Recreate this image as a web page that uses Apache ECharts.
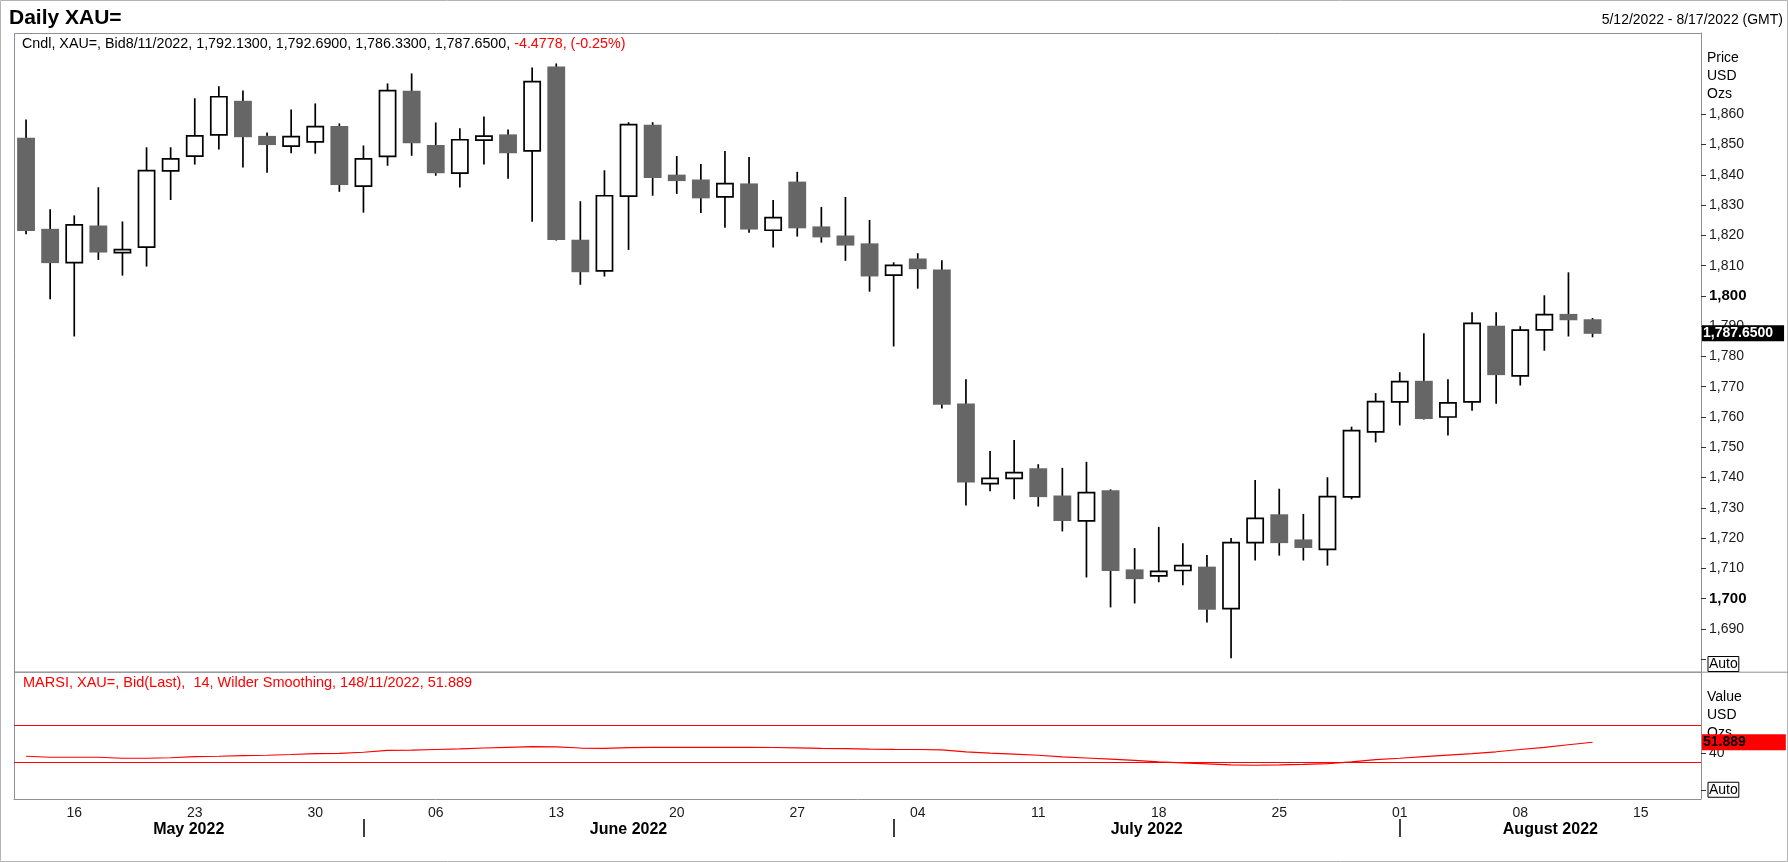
<!DOCTYPE html>
<html>
<head>
<meta charset="utf-8">
<title>Daily XAU=</title>
<script src="https://cdn.jsdelivr.net/npm/echarts@6/dist/echarts.min.js"></script>
<style>
    html, body { margin: 0; padding: 0; background: #fff; }
    #chart { width: 1788px; height: 862px; }
</style>
</head>
<body>
<div id="chart"></div>
<script>
// trading days shown on the time axis (5/12/2022 - 8/17/2022)
const dates = [
    '2022-05-12', '2022-05-13', '2022-05-16', '2022-05-17', '2022-05-18', '2022-05-19', '2022-05-20',
    '2022-05-23', '2022-05-24', '2022-05-25', '2022-05-26', '2022-05-27', '2022-05-30', '2022-05-31',
    '2022-06-01', '2022-06-02', '2022-06-03', '2022-06-06', '2022-06-07', '2022-06-08', '2022-06-09',
    '2022-06-10', '2022-06-13', '2022-06-14', '2022-06-15', '2022-06-16', '2022-06-17', '2022-06-20',
    '2022-06-21', '2022-06-22', '2022-06-23', '2022-06-24', '2022-06-27', '2022-06-28', '2022-06-29',
    '2022-06-30', '2022-07-01', '2022-07-04', '2022-07-05', '2022-07-06', '2022-07-07', '2022-07-08',
    '2022-07-11', '2022-07-12', '2022-07-13', '2022-07-14', '2022-07-15', '2022-07-18', '2022-07-19',
    '2022-07-20', '2022-07-21', '2022-07-22', '2022-07-25', '2022-07-26', '2022-07-27', '2022-07-28',
    '2022-07-29', '2022-08-01', '2022-08-02', '2022-08-03', '2022-08-04', '2022-08-05', '2022-08-08',
    '2022-08-09', '2022-08-10', '2022-08-11', '2022-08-12', '2022-08-15', '2022-08-16', '2022-08-17'
]

// daily bid candles
const openPrices = [
    1852.1, 1822.0, 1811.0, 1823.1, 1814.3, 1816.1, 1841.3, 1846.2, 1853.2, 1864.3, 1852.7, 1849.5, 1850.9, 1856.0,
    1836.3, 1846.1, 1867.6, 1849.7, 1840.6, 1851.5, 1853.2, 1847.9, 1875.6, 1818.4, 1808.3, 1833.0, 1856.4, 1839.9,
    1838.3, 1832.7, 1837.0, 1821.7, 1837.6, 1822.8, 1819.8, 1817.2, 1806.9, 1812.2, 1808.6, 1764.3, 1738.0, 1739.7,
    1742.9, 1733.9, 1725.7, 1735.6, 1709.5, 1707.5, 1709.3, 1710.4, 1696.7, 1718.5, 1727.7, 1719.4, 1716.3, 1733.6,
    1755.1, 1765.0, 1771.8, 1760.0, 1765.0, 1790.0, 1773.6, 1788.8, 1793.9, 1792.13
]
const highPrices = [
    1858.3, 1828.6, 1826.6, 1835.9, 1824.6, 1849.1, 1849.1, 1865.3, 1869.3, 1867.9, 1854.0, 1861.6, 1863.6, 1857.0,
    1849.7, 1870.2, 1873.5, 1857.3, 1855.4, 1859.3, 1855.0, 1875.5, 1876.8, 1831.3, 1841.5, 1857.4, 1857.4, 1846.2,
    1843.6, 1847.9, 1845.9, 1831.7, 1841.0, 1829.4, 1832.7, 1825.1, 1811.1, 1814.1, 1811.8, 1772.5, 1748.8, 1752.4,
    1744.4, 1743.2, 1745.2, 1736.1, 1716.7, 1723.7, 1718.3, 1714.4, 1720.0, 1739.2, 1736.3, 1728.0, 1740.1, 1756.8,
    1767.9, 1774.8, 1787.7, 1772.5, 1794.6, 1794.6, 1790.0, 1800.2, 1807.8, 1792.69
]
const lowPrices = [
    1820.4, 1798.9, 1786.6, 1811.9, 1806.7, 1809.7, 1831.7, 1843.4, 1848.4, 1842.4, 1840.7, 1847.1, 1847.0, 1834.4,
    1827.5, 1843.0, 1846.3, 1839.7, 1835.8, 1843.4, 1838.7, 1824.5, 1818.3, 1803.7, 1806.4, 1815.2, 1833.1, 1833.7,
    1827.4, 1822.5, 1820.9, 1816.0, 1819.6, 1817.6, 1811.6, 1801.4, 1783.3, 1802.4, 1762.8, 1730.8, 1735.5, 1732.8,
    1730.4, 1722.2, 1707.0, 1697.1, 1698.4, 1705.4, 1704.4, 1692.1, 1680.3, 1712.6, 1714.2, 1712.6, 1710.9, 1732.8,
    1751.6, 1757.2, 1759.2, 1753.9, 1762.1, 1764.4, 1770.4, 1781.9, 1786.6, 1786.33
]
const closePrices = [
    1821.6, 1811.0, 1823.5, 1814.5, 1815.3, 1841.4, 1845.3, 1852.9, 1865.8, 1852.6, 1850.0, 1852.6, 1855.9, 1836.8,
    1845.3, 1867.8, 1850.6, 1840.7, 1851.6, 1852.8, 1847.3, 1870.8, 1818.6, 1808.0, 1833.1, 1856.6, 1839.1, 1838.1,
    1832.4, 1837.1, 1822.1, 1825.9, 1822.5, 1819.5, 1816.8, 1806.6, 1810.1, 1809.0, 1764.2, 1738.5, 1739.7, 1741.6,
    1733.7, 1725.8, 1735.0, 1709.3, 1706.6, 1709.0, 1710.9, 1696.5, 1718.5, 1726.5, 1718.5, 1716.9, 1733.7, 1755.5,
    1765.1, 1771.7, 1759.5, 1764.7, 1790.9, 1774.0, 1788.7, 1793.8, 1792.13, 1787.65
]

// MARSI 14, Wilder smoothing
const rsiValues = [
    36.6, 35.5, 35.5, 35.5, 34.4, 34.4, 35.0, 36.2, 36.6, 37.2, 37.7, 38.5, 39.5, 39.8,
    41.0, 43.0, 43.4, 44.0, 44.6, 45.6, 46.4, 47.2, 46.8, 45.6, 45.3, 46.0, 46.4, 46.4,
    46.4, 46.4, 46.4, 46.2, 45.8, 45.3, 45.0, 44.5, 44.2, 44.0, 43.5, 41.5, 40.0, 39.0,
    37.7, 36.0, 34.7, 33.5, 32.0, 30.5, 29.4, 28.3, 27.2, 26.8, 27.2, 27.8, 28.5, 30.5,
    33.0, 34.4, 36.2, 37.8, 39.5, 41.5, 44.0, 46.4, 49.2, 51.889
]
const rsiBands = [70, 30]

const priceTicks = [1680, 1690, 1700, 1710, 1720, 1730, 1740, 1750, 1760, 1770, 1780, 1790,
    1800, 1810, 1820, 1830, 1840, 1850, 1860]
const boldTicks = [1700, 1800]
const rsiTicks = [0, 40]
const monthNames = ['May 2022', 'June 2022', 'July 2022', 'August 2022']

const lastPrice = closePrices[closePrices.length - 1]
const lastRsi = rsiValues[rsiValues.length - 1]

// layout
const W = 1788, H = 862
const gridLeft = 14, gridRight = 87
const mainTop = 33, mainBottom = 190.3
const rsiTop = 671.7, rsiBottom = 63
const frameColor = '#8f8f99'
const font = '"Liberation Sans", Arial, sans-serif'

// month boundaries on the category axis
const monthStarts = []
for (let i = 1; i < dates.length; i++) {
    if (dates[i].slice(5, 7) !== dates[i - 1].slice(5, 7)) monthStarts.push(i)
}
const bounds = [-0.5].concat(monthStarts, [dates.length - 0.5])
const monthCenters = []
for (let k = 0; k < bounds.length - 1; k++) monthCenters.push((bounds[k] + bounds[k + 1]) / 2)

function isMonday(d) {
    return new Date(d + 'T00:00:00Z').getUTCDay() === 1
}

function fmtPrice(v) {
    return v.toLocaleString('en-US')
}

const candles = openPrices.map(function (o, i) {
    return [i, o, closePrices[i], lowPrices[i], highPrices[i]]
})

function renderCandle(params, api) {
    const i = api.value(0)
    const o = api.value(1), c = api.value(2), l = api.value(3), h = api.value(4)
    const pO = api.coord([i, o])
    const pC = api.coord([i, c])
    const pL = api.coord([i, l])
    const pH = api.coord([i, h])
    const w = api.size([1, 0])[0] * 0.74
    const up = c > o
    const top = Math.min(pO[1], pC[1])
    const bot = Math.max(pO[1], pC[1])
    const lw = 1.7
    const body = up
        ? {type: 'rect', shape: {x: pO[0] - w / 2 + lw / 2, y: top, width: w - lw, height: Math.max(bot - top, 2)},
            style: {fill: '#fff', stroke: '#000', lineWidth: lw}}
        : {type: 'rect', shape: {x: pO[0] - w / 2, y: top - 0.5, width: w, height: Math.max(bot - top + 1, 2)},
            style: {fill: '#666666'}}
    return {
        type: 'group',
        children: [
            {type: 'line', shape: {x1: pH[0], y1: pH[1], x2: pL[0], y2: pL[1]}, style: {stroke: '#000', lineWidth: lw}},
            body
        ]
    }
}

// static value tag on a y axis (last price / last indicator value)
function lastTag(value, text, bg, fg, padRight) {
    return {
        show: true,
        type: 'line',
        value: value,
        status: 'show',
        triggerTooltip: false,
        lineStyle: {opacity: 0},
        handle: {show: false},
        label: {
            show: true,
            formatter: function () { return text },
            backgroundColor: bg,
            color: fg,
            fontWeight: 'bold',
            fontSize: 14,
            fontFamily: font,
            margin: 1,
            padding: [1, padRight, 1, 1],
            borderRadius: 0,
            shadowBlur: 0
        }
    }
}

const myChart = echarts.init(document.getElementById('chart'), null, {renderer: 'canvas'})

const option = {
    animation: false,
    backgroundColor: '#fff',
    textStyle: {fontFamily: font},
    grid: [
        {left: gridLeft, right: gridRight, top: mainTop, bottom: mainBottom, show: false},
        {left: gridLeft, right: gridRight, top: rsiTop, bottom: rsiBottom, show: false}
    ],
    xAxis: [
        {
            type: 'category', gridIndex: 0, data: dates,
            axisLine: {show: false, onZero: false}, axisTick: {show: false}, axisLabel: {show: false}, splitLine: {show: false}
        },
        {
            type: 'category', gridIndex: 1, data: dates,
            axisLine: {onZero: false, lineStyle: {color: frameColor, width: 1}},
            axisTick: {
                alignWithLabel: true, length: 5, lineStyle: {color: '#000', width: 1},
                interval: function (index, value) { return !isMonday(value) }
            },
            axisLabel: {
                interval: function (index, value) { return isMonday(value) },
                formatter: function (value) { return value.slice(8) },
                margin: 7, fontSize: 14, color: '#1a1a1a', fontFamily: font
            },
            splitLine: {show: false}
        },
        {
            type: 'value', gridIndex: 1, position: 'bottom', offset: 20,
            min: -0.5, max: dates.length - 0.5,
            axisLine: {show: false, onZero: false},
            splitLine: {show: false},
            axisTick: {show: true, customValues: monthStarts, length: 18, lineStyle: {color: '#000', width: 1.5}},
            axisLabel: {
                customValues: monthCenters, margin: 3,
                fontSize: 16, fontWeight: 'bold', color: '#000', fontFamily: font,
                formatter: function (v) {
                    let k = 0
                    monthCenters.forEach(function (c, j) {
                        if (Math.abs(c - v) < Math.abs(monthCenters[k] - v)) k = j
                    })
                    return monthNames[k]
                }
            }
        }
    ],
    yAxis: [
        {
            type: 'value', gridIndex: 0, position: 'right',
            min: 1675.86, max: 1886.86, z: 5,
            axisLine: {show: true, onZero: false, lineStyle: {color: frameColor, width: 1}},
            splitLine: {show: false},
            axisTick: {show: true, customValues: priceTicks, length: 5, lineStyle: {color: '#333'}},
            axisLabel: {
                customValues: priceTicks.slice(1).concat([priceTicks[0] - 1.6]),
                margin: 1,
                hideOverlap: false,
                formatter: function (v) {
                    if (v < priceTicks[0]) return '{sp| }{auto|Auto}'
                    if (boldTicks.indexOf(v) >= 0) return '{b|' + fmtPrice(v) + '}'
                    return '{n|' + fmtPrice(v) + '}'
                },
                rich: {
                    n: {fontSize: 14, color: '#1a1a1a', padding: [0, 0, 0, 7], fontFamily: font},
                    b: {fontSize: 15, fontWeight: 'bold', color: '#000', padding: [0, 0, 0, 7], fontFamily: font},
                    sp: {width: 6, fontSize: 14},
                    auto: {fontSize: 14, color: '#000', borderColor: '#000', borderWidth: 1, padding: [1, 1, 0, 1], fontFamily: font}
                }
            },
            axisPointer: lastTag(lastPrice,
                lastPrice.toLocaleString('en-US', {minimumFractionDigits: 4}), '#000', '#fff', 11)
        },
        {
            type: 'value', gridIndex: 1, position: 'right',
            min: -10.1, max: 129.0, z: 5,
            axisLine: {show: true, onZero: false, lineStyle: {color: frameColor, width: 1}},
            splitLine: {show: false},
            axisTick: {show: true, customValues: rsiTicks, length: 5, lineStyle: {color: '#333'}},
            axisLabel: {
                customValues: rsiTicks,
                margin: 1,
                hideOverlap: false,
                formatter: function (v) {
                    if (v === 0) return '{sp| }{auto|Auto}'
                    return '{n|' + v + '}'
                },
                rich: {
                    n: {fontSize: 14, color: '#1a1a1a', padding: [0, 0, 0, 7], fontFamily: font},
                    sp: {width: 6, fontSize: 14},
                    auto: {fontSize: 14, color: '#000', borderColor: '#000', borderWidth: 1, padding: [1, 1, 0, 1], fontFamily: font}
                }
            },
            axisPointer: lastTag(lastRsi, lastRsi.toFixed(3), '#ff0000', '#000', 40)
        }
    ],
    series: [
        {
            name: 'XAU=',
            type: 'custom',
            xAxisIndex: 0,
            yAxisIndex: 0,
            renderItem: renderCandle,
            encode: {x: 0, y: [1, 2, 3, 4]},
            data: candles
        },
        {
            name: 'MARSI',
            type: 'line',
            xAxisIndex: 1,
            yAxisIndex: 1,
            data: rsiValues,
            symbol: 'none',
            lineStyle: {color: '#ff0000', width: 1.2},
            markLine: {
                silent: true,
                symbol: ['none', 'none'],
                label: {show: false},
                lineStyle: {color: '#ff0000', type: 'solid', width: 1.2},
                data: rsiBands.map(function (b) { return {yAxis: b} })
            }
        }
    ],
    graphic: [
        {type: 'rect', shape: {x: 0.5, y: 0.5, width: W - 1, height: H - 1}, style: {fill: null, stroke: '#b4b4b4', lineWidth: 1}, silent: true},
        {type: 'rect', shape: {x: gridLeft + 0.5, y: mainTop + 0.5, width: W - gridRight - gridLeft, height: rsiTop - mainTop},
            style: {fill: null, stroke: frameColor, lineWidth: 1}, silent: true},
        {type: 'line', shape: {x1: gridLeft, y1: rsiTop + 0.5, x2: W, y2: rsiTop + 0.5}, style: {stroke: frameColor, lineWidth: 1}, silent: true},
        {type: 'line', shape: {x1: gridLeft + 0.5, y1: rsiTop, x2: gridLeft + 0.5, y2: H - rsiBottom}, style: {stroke: frameColor, lineWidth: 1}, silent: true},
        {type: 'text', x: 9, y: 18, style: {text: 'Daily XAU=', font: 'bold 21px ' + font, fill: '#000', verticalAlign: 'middle'}},
        {type: 'text', x: 1783, y: 20.5, style: {text: '5/12/2022 - 8/17/2022 (GMT)', font: '14px ' + font, fill: '#000', align: 'right', verticalAlign: 'middle'}},
        {
            type: 'text', x: 22, y: 44,
            style: {
                text: '{k|Cndl, XAU=, Bid8/11/2022, 1,792.1300, 1,792.6900, 1,786.3300, 1,787.6500, }{r|-4.4778, (-0.25%)}',
                verticalAlign: 'middle',
                rich: {
                    k: {fontSize: 14.3, fontFamily: font, fill: '#000', color: '#000'},
                    r: {fontSize: 14.3, fontFamily: font, fill: '#ff0000', color: '#ff0000'}
                }
            }
        },
        {type: 'text', x: 23, y: 682.5, style: {text: 'MARSI, XAU=, Bid(Last),  14, Wilder Smoothing, 148/11/2022, 51.889', font: '14.5px ' + font, fill: '#ff0000', verticalAlign: 'middle'}},
        {type: 'text', x: 1707, y: 49, style: {text: 'Price\nUSD\nOzs', font: '14px ' + font, fill: '#000', lineHeight: 18}},
        {type: 'text', x: 1707, y: 688, z: -1, style: {text: 'Value\nUSD\nOzs', font: '14px ' + font, fill: '#000', lineHeight: 18}}
    ]
}

if (option && typeof option === 'object') {
    myChart.setOption(option)
}
window.addEventListener('resize', myChart.resize)
</script>
</body>
</html>
